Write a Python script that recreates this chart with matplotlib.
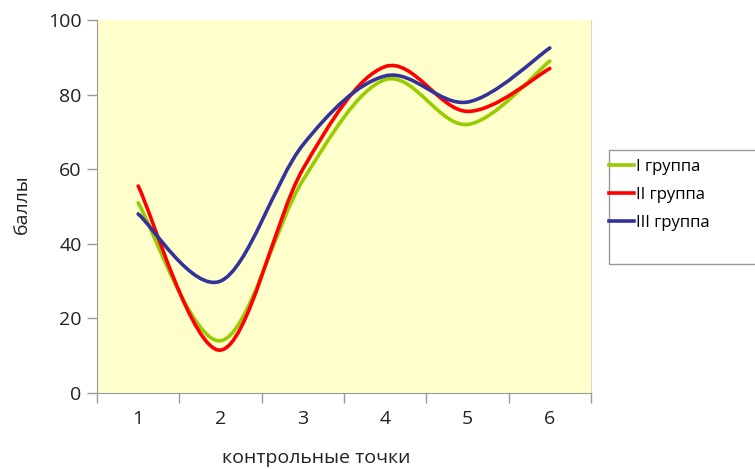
import matplotlib.pyplot as plt
from matplotlib.path import Path
from matplotlib.patches import PathPatch, Rectangle
from matplotlib.lines import Line2D

plt.rcParams['font.family'] = ['Open Sans', 'DejaVu Sans']

points = [1, 2, 3, 4, 5, 6]
group1 = [51, 14, 57, 84, 72, 89]
group2 = [55.5, 11.5, 60, 87.5, 75.5, 87]
group3 = [48, 30, 66.5, 85, 78, 92.5]
names = ['I группа', 'II группа', 'III группа']
colors = ['#99CC00', '#FF0000', '#333399']


def smooth_path(xs, ys):
    # cubic Bezier segments, control points from neighbouring points (spreadsheet-style smoothing)
    pts = list(zip(xs, ys))
    n = len(pts)
    verts = [pts[0]]
    codes = [Path.MOVETO]
    for i in range(n - 1):
        p0 = pts[i - 1] if i > 0 else pts[i]
        p1 = pts[i]
        p2 = pts[i + 1]
        p3 = pts[i + 2] if i + 2 < n else pts[i + 1]
        c1 = (p1[0] + (p2[0] - p0[0]) / 6, p1[1] + (p2[1] - p0[1]) / 6)
        c2 = (p2[0] - (p3[0] - p1[0]) / 6, p2[1] - (p3[1] - p1[1]) / 6)
        verts += [c1, c2, p2]
        codes += [Path.CURVE4] * 3
    return Path(verts, codes)


fig = plt.figure(figsize=(7.55, 4.69), dpi=100)
ax = fig.add_axes([97 / 755, 1 - 393 / 469, (591 - 97) / 755, (393 - 20) / 469])
ax.set_facecolor('#FFFFCC')

handles = []
for ys, name, c in zip([group1, group2, group3], names, colors):
    ax.add_patch(PathPatch(smooth_path(points, ys), facecolor='none',
                           edgecolor=c, lw=2.6, capstyle='round', joinstyle='round'))
    handles.append(Line2D([], [], color=c, lw=2.6, label=name))

ax.set_xlim(0.5, 6.5)
ax.set_ylim(0, 100)
ax.set_yticks([0, 20, 40, 60, 80, 100])
ax.set_xticks(points)
ax.set_xticks([0.5 + i for i in range(7)], minor=True)
ax.tick_params(axis='x', which='major', length=0, pad=12, labelsize=14, colors='#222222')
ax.tick_params(axis='x', which='minor', length=7, color='#999999', width=1)
ax.tick_params(axis='y', length=7, color='#999999', width=1, labelsize=14, pad=4,
               labelcolor='#222222')
for side in ['left', 'bottom']:
    ax.spines[side].set_color('#999999')
ax.spines['top'].set_visible(False)
ax.spines['right'].set_color('#D8D8C0')

fig.text(22 / 755, 1 - 204 / 469, 'баллы', rotation=90, ha='center', va='center',
         fontsize=14, color='#222222')
fig.text(316 / 755, 1 - 458 / 469, 'контрольные точки', ha='center', va='center',
         fontsize=14, color='#222222')

# legend box runs off the right edge
fig.patches.append(Rectangle((609 / 755, 1 - 264 / 469), 160 / 755, 114 / 469,
                             transform=fig.transFigure, facecolor='white',
                             edgecolor='#999999', lw=1))
fig.legend(handles=handles, loc='upper left', bbox_to_anchor=(604 / 755, 1 - 154 / 469),
           frameon=False, fontsize=12, handlelength=1.5, handletextpad=0.15,
           labelspacing=0.72, borderaxespad=0, borderpad=0.3)

fig.savefig('out.png', dpi=100)
